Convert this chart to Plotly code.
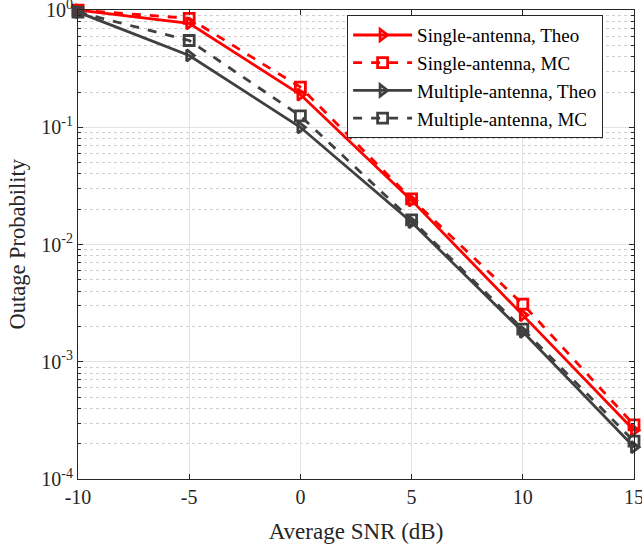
import plotly.graph_objects as go

snr = [-10, -5, 0, 5, 10, 15]
single_theo = [1.0, 0.77, 0.19, 0.0238, 0.0025, 2.6e-4]
single_mc = [1.0, 0.85, 0.22, 0.0245, 0.0031, 2.9e-4]
multi_theo = [0.96, 0.41, 0.10, 0.0155, 0.0018, 1.87e-4]
multi_mc = [0.96, 0.55, 0.125, 0.0162, 0.0019, 2.1e-4]

ytickvals = [1e-4, 1e-3, 1e-2, 1e-1, 1]
yticktext = ["10<sup>-4</sup>", "10<sup>-3</sup>", "10<sup>-2</sup>", "10<sup>-1</sup>", "10<sup>0</sup>"]
xtickvals = [-10, -5, 0, 5, 10, 15]
xticktext = ["-10", "-5", "0", "5", "10", "15"]
yminor = [m * 10.0 ** e for e in range(-4, 0) for m in range(2, 10)]

RED = "#ff0000"
GRAY = "#404040"
FONT = "Liberation Serif"

fig = go.Figure()
series = [
    ("Single-antenna, Theo", single_theo, RED, "solid", "triangle-right-open"),
    ("Single-antenna, MC", single_mc, RED, "dash", "square-open"),
    ("Multiple-antenna, Theo", multi_theo, GRAY, "solid", "triangle-right-open"),
    ("Multiple-antenna, MC", multi_mc, GRAY, "dash", "square-open"),
]
for name, vals, col, dash, sym in series:
    fig.add_trace(go.Scatter(
        x=snr, y=vals, name=name, mode="lines+markers",
        line=dict(color=col, width=2.8, dash=dash),
        marker=dict(symbol=sym, size=10, color=col, line=dict(color=col, width=2.8)),
        cliponaxis=False,
    ))

fig.update_layout(
    width=642, height=544,
    margin=dict(l=78, r=8, t=10, b=65, autoexpand=False),
    paper_bgcolor="white", plot_bgcolor="white",
    font=dict(family=FONT, size=20, color="#262626"),
    showlegend=True,
    legend=dict(
        x=0.484, y=0.989, xanchor="left", yanchor="top",
        bgcolor="white", bordercolor="#262626", borderwidth=1,
        font=dict(family=FONT, size=19, color="#000000"),
        tracegroupgap=0, itemwidth=59,
    ),
    annotations=[dict(
        text="Outage Probability", textangle=-90, showarrow=False,
        xref="paper", yref="paper", x=-(78 - 17) / 556, y=0.5,
        xanchor="center", yanchor="middle",
        font=dict(family=FONT, size=22.5, color="#262626"),
    )],
)
fig.update_xaxes(
    range=[-10, 15], tickmode="array", tickvals=xtickvals, ticktext=xticktext,
    automargin=False, ticklabeloverflow="allow",
    showline=True, linecolor="#262626", linewidth=1, mirror="ticks",
    ticks="inside", ticklen=5, tickcolor="#262626",
    showgrid=True, gridcolor="#e3e3e3", gridwidth=1, zeroline=False,
    title=dict(text="Average SNR (dB)", font=dict(family=FONT, size=23), standoff=15),
    tickfont=dict(family=FONT, size=20),
)
fig.update_yaxes(
    type="log", range=[-4, 0.0005], tickmode="array", tickvals=ytickvals, ticktext=yticktext,
    automargin=False, ticklabeloverflow="allow",
    showline=True, linecolor="#262626", linewidth=1, mirror="ticks",
    ticks="inside", ticklen=5, tickcolor="#262626",
    showgrid=True, gridcolor="#e3e3e3", gridwidth=1, zeroline=False,
    minor=dict(tickmode="array", tickvals=yminor, ticks="inside", ticklen=3, tickcolor="#262626",
               showgrid=True, gridcolor="#cfcfcf", griddash="dot", gridwidth=1),
    tickfont=dict(family=FONT, size=20),
)

fig.write_html(
    "out.html",
    config={"displayModeBar": False},
    post_script="document.body.style.margin='0';document.body.style.overflow='hidden';",
)
